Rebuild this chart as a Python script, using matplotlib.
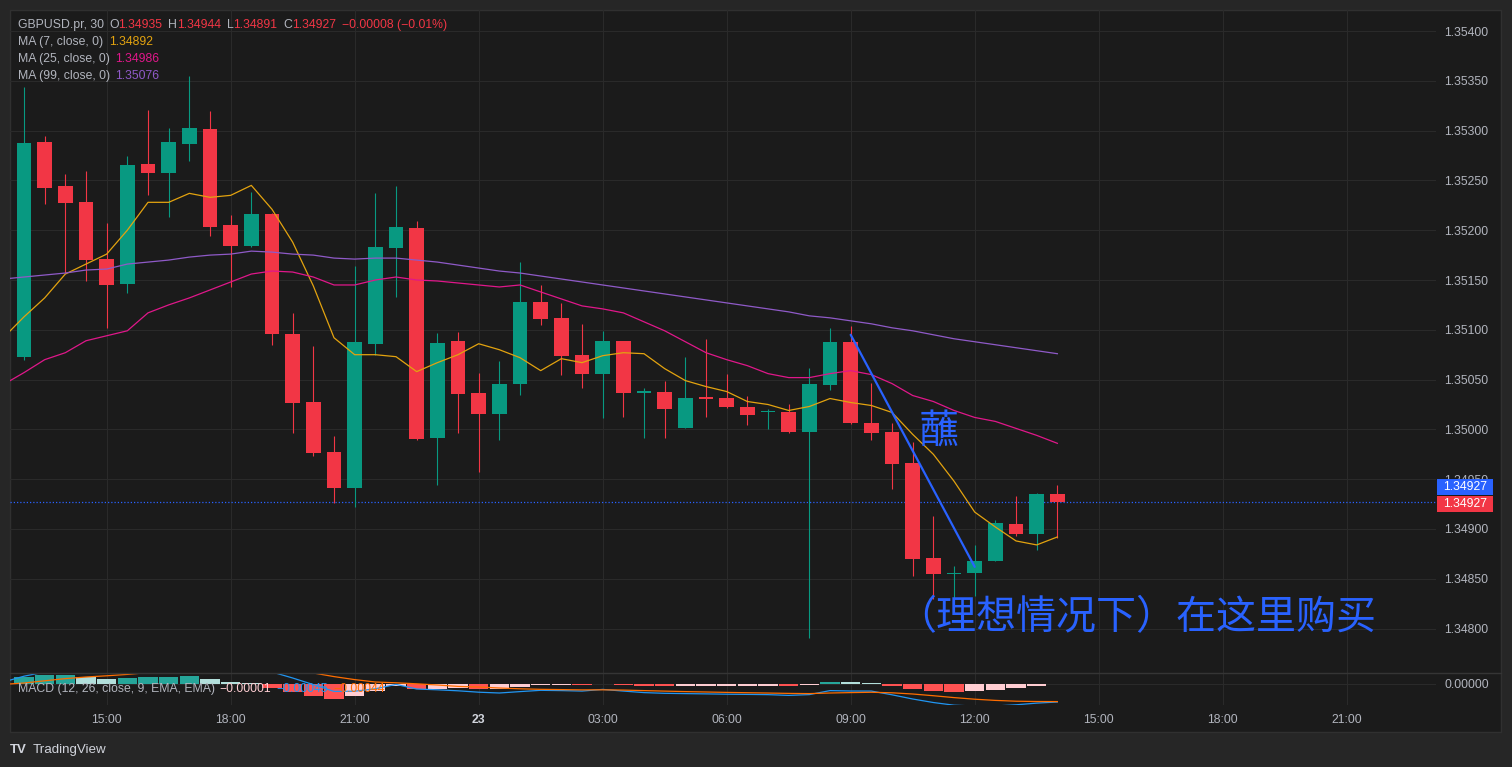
import numpy as np
import matplotlib
matplotlib.use("Agg")
import matplotlib.pyplot as plt
from matplotlib.patches import Rectangle
from matplotlib.lines import Line2D

plt.rcParams['font.family'] = ['Liberation Sans', 'DejaVu Sans']

# ---------------- data (30-min GBPUSD.pr candles) ----------------
opens = [1.35073, 1.35289, 1.35244, 1.35228, 1.35171, 1.35146, 1.35266, 1.35257, 1.35287, 1.35302,
         1.35205, 1.35184, 1.35216, 1.35096, 1.35028, 1.34977, 1.34941, 1.35086, 1.35182, 1.35202,
         1.34991, 1.35089, 1.35037, 1.35015, 1.35046, 1.35128, 1.35112, 1.35075, 1.35056, 1.35089,
         1.35037, 1.35038, 1.35001, 1.35032, 1.35032, 1.35022, 1.35017, 1.35017, 1.34997, 1.35045,
         1.35088, 1.35006, 1.34997, 1.34966, 1.34871, 1.34855, 1.34856, 1.34868, 1.34905, 1.34895,
         1.34935]
highs = [1.35344, 1.35295, 1.35256, 1.35259, 1.35207, 1.35275, 1.35321, 1.35303, 1.35355, 1.35320,
         1.35215, 1.35238, 1.35217, 1.35117, 1.35084, 1.34993, 1.35164, 1.35237, 1.35244, 1.35209,
         1.35097, 1.35098, 1.35057, 1.35069, 1.35168, 1.35145, 1.35127, 1.35106, 1.35099, 1.35089,
         1.35042, 1.35049, 1.35073, 1.35091, 1.35056, 1.35034, 1.35020, 1.35025, 1.35062, 1.35102,
         1.35104, 1.35047, 1.35006, 1.34987, 1.34913, 1.34863, 1.34884, 1.34909, 1.34933, 1.34936,
         1.34944]
lows = [1.35070, 1.35226, 1.35157, 1.35149, 1.35102, 1.35137, 1.35235, 1.35213, 1.35269, 1.35194,
        1.35143, 1.35183, 1.35085, 1.34996, 1.34973, 1.34926, 1.34922, 1.35075, 1.35133, 1.34989,
        1.34944, 1.34996, 1.34957, 1.34989, 1.35035, 1.35105, 1.35055, 1.35042, 1.35011, 1.35012,
        1.34991, 1.34991, 1.35001, 1.35012, 1.35021, 1.35004, 1.35000, 1.34996, 1.34791, 1.35040,
        1.35005, 1.34989, 1.34940, 1.34853, 1.34830, 1.34831, 1.34833, 1.34868, 1.34893, 1.34879,
        1.34891]
closes = [1.35288, 1.35242, 1.35227, 1.35170, 1.35145, 1.35265, 1.35257, 1.35289, 1.35303, 1.35203,
          1.35184, 1.35216, 1.35096, 1.35027, 1.34976, 1.34941, 1.35088, 1.35183, 1.35203, 1.34990,
          1.35087, 1.35036, 1.35015, 1.35046, 1.35128, 1.35111, 1.35074, 1.35056, 1.35089, 1.35037,
          1.35038, 1.35020, 1.35032, 1.35031, 1.35022, 1.35014, 1.35018, 1.34997, 1.35046, 1.35088,
          1.35006, 1.34996, 1.34965, 1.34870, 1.34855, 1.34856, 1.34868, 1.34906, 1.34895, 1.34935,
          1.34927]

# moving averages, first value belongs to the bar just left of the visible range
ma7 = [1.35092, 1.35113, 1.35132, 1.35156, 1.35166, 1.35176, 1.35200, 1.35228, 1.35228, 1.35237,
       1.35233, 1.35235, 1.35245, 1.35221, 1.35188, 1.35144, 1.35092, 1.35075, 1.35075, 1.35073,
       1.35058, 1.35067, 1.35075, 1.35086, 1.35080, 1.35072, 1.35059, 1.35071, 1.35067, 1.35074,
       1.35077, 1.35076, 1.35061, 1.35049, 1.35043, 1.35038, 1.35028, 1.35025, 1.35019, 1.35023,
       1.35031, 1.35027, 1.35024, 1.35017, 1.34995, 1.34975, 1.34948, 1.34917, 1.34902, 1.34888,
       1.34884, 1.34892]
ma25 = [1.35045, 1.35057, 1.35070, 1.35077, 1.35089, 1.35094, 1.35099, 1.35117, 1.35125, 1.35132,
        1.35140, 1.35148, 1.35156, 1.35159, 1.35158, 1.35153, 1.35145, 1.35145, 1.35150, 1.35153,
        1.35150, 1.35149, 1.35147, 1.35145, 1.35143, 1.35145, 1.35138, 1.35131, 1.35124, 1.35121,
        1.35117, 1.35108, 1.35099, 1.35088, 1.35077, 1.35070, 1.35064, 1.35056, 1.35052, 1.35052,
        1.35056, 1.35059, 1.35055, 1.35046, 1.35034, 1.35028, 1.35019, 1.35012, 1.35008, 1.35001,
        1.34994, 1.34986]
ma99 = [1.35151, 1.35153, 1.35155, 1.35157, 1.35160, 1.35161, 1.35166, 1.35168, 1.35170, 1.35173,
        1.35175, 1.35176, 1.35179, 1.35178, 1.35176, 1.35175, 1.35172, 1.35171, 1.35172, 1.35172,
        1.35170, 1.35168, 1.35165, 1.35162, 1.35159, 1.35157, 1.35154, 1.35151, 1.35148, 1.35145,
        1.35142, 1.35139, 1.35136, 1.35133, 1.35130, 1.35127, 1.35124, 1.35121, 1.35118, 1.35114,
        1.35112, 1.35109, 1.35106, 1.35102, 1.35099, 1.35095, 1.35091, 1.35088, 1.35085, 1.35082,
        1.35079, 1.35076]

# MACD (values in units of 1e-5); line/signal start one bar left of the visible range
macd_line = [5, 19.5, 30, 36.5, 34.5, 32.5, 39, 46.5, 51.5, 56.5, 52.5, 48, 45, 30, 15, -1.5,
             -18.5, -18, -12, -1, -12.5, -14.5, -17, -20.5, -22.5, -19, -15.8, -16.5, -17.7, -13.5,
             -17.7, -21.5, -23.3, -24, -24.7, -25.5, -26, -26.6, -28.5, -26.5, -16.5, -17.5, -17.7,
             -27, -37.5, -46.3, -53, -55, -55, -52, -47.8, -45]
macd_signal = [-1, 2.5, 8, 13.5, 17.5, 20.5, 24, 28.5, 33, 37.5, 40.5, 42, 42.5, 40, 35, 27.5,
               18.5, 11, 5, 3, 0.5, -2.5, -6, -7.5, -10, -12, -13.3, -14, -14.7, -14.5, -15.2,
               -16.5, -17.8, -19, -20, -21, -21.8, -22.6, -23.5, -24, -22.5, -21.5, -20.7, -22,
               -25, -29.3, -34, -38, -41, -43, -43.8, -44]
macd_hist = [17, 22, 23, 17, 12, 15, 18, 18.5, 19, 12, 6, 2.5, -10, -20, -29, -37, -29, -17, -4,
             -13, -12, -11, -13, -12.5, -7, -2.5, -2.5, -3, 1, -2.5, -5, -5.5, -5, -4.7, -4.5,
             -4.2, -4, -5, -2.5, 6, 4, 3, -5, -12.5, -17, -19, -17, -14, -9, -4, -1]

tick_pos = [4, 10, 16, 22, 28, 34, 40, 46, 52, 58, 64]
tick_labels = ['15:00', '18:00', '21:00', '23', '03:00', '06:00', '09:00', '12:00',
               '15:00', '18:00', '21:00']
price_ticks = [1.348, 1.3485, 1.349, 1.3495, 1.350, 1.3505, 1.351, 1.3515, 1.352, 1.3525,
               1.353, 1.3535, 1.354]
last_price = 1.34927

trend_x = [40, 46]
trend_y = [1.35095, 1.34862]
note1_text = "蘸"
note1_pos = (43.3, 1.34997)
note2_text = "（理想情况下）在这里购买"
note2_pos = (42.2, 1.34810)

# ---------------- styling ----------------
W, H = 1512, 767
BG_OUT = '#262626'
BG = '#1b1b1b'
GRID = '#2a2a2a'
TXT = '#b2b5be'
GREEN = '#089981'
RED = '#F23645'
BLUE = '#2962FF'
C_MA7 = '#e3a30f'
C_MA25 = '#e0178a'
C_MA99 = '#8f5ac8'
FS = 8.8

fig = plt.figure(figsize=(W / 100, H / 100), dpi=100, facecolor=BG_OUT)


def rect(l, t, r, b):
    return [l / W, 1 - b / H, (r - l) / W, (b - t) / H]


def ftext(x, y, s, color=TXT, **kw):
    kw.setdefault('fontsize', FS)
    kw.setdefault('va', 'center')
    kw.setdefault('ha', 'left')
    return fig.text(x / W, 1 - y / H, s, color=color, **kw)


fig.add_artist(Rectangle((10 / W, 1 - 732 / H), (1501 - 10) / W, (732 - 10) / H,
                         transform=fig.transFigure, fc=BG, ec='#303030', lw=1, zorder=-5))

ax = fig.add_axes(rect(10, 10, 1436, 673))
axm = fig.add_axes(rect(10, 673, 1436, 705))
XL = (-0.677, 68.32)
for a in (ax, axm):
    a.set_facecolor('none')
    for s in a.spines.values():
        s.set_visible(False)
    a.set_xlim(*XL)
    a.set_xticks(tick_pos)
    a.grid(True, color=GRID, lw=0.75)
    a.set_axisbelow(True)
    a.tick_params(length=0, colors=TXT, labelsize=FS)

# price pane
ax.set_ylim(1.347554, 1.354211)
ax.yaxis.tick_right()
ax.set_yticks(price_ticks)
ax.set_yticklabels([f"{v:.5f}" for v in price_ticks])
ax.tick_params(axis='y', pad=5.8)
ax.tick_params(axis='x', labelbottom=False)

idx = np.arange(len(opens))
o, h, l, c = (np.array(v) for v in (opens, highs, lows, closes))
cols = np.where(c >= o, GREEN, RED)
ax.vlines(idx, l, h, colors=cols, lw=0.8, zorder=3)
body_lo = np.minimum(o, c)
body_h = np.maximum(np.abs(c - o), 1.1e-5)
ax.bar(idx, body_h, bottom=body_lo, width=0.72, color=cols, lw=0, zorder=4)

ma_x = np.arange(-1, len(ma7) - 1)
ax.plot(ma_x, ma7, color=C_MA7, lw=0.9, zorder=5)
ax.plot(ma_x, ma25, color=C_MA25, lw=0.9, zorder=5)
ax.plot(ma_x, ma99, color=C_MA99, lw=0.9, zorder=5)

ax.axhline(last_price, color=BLUE, lw=0.9, ls=(0, (1, 1.6)), zorder=2)

# drawings
ax.plot(trend_x, trend_y, color=BLUE, lw=1.6, zorder=6, solid_capstyle='round')
ax.text(*note1_pos, note1_text, color=BLUE, fontsize=28.8, ha='left', va='center',
        family=['Noto Sans CJK SC'], zorder=7)
ax.text(*note2_pos, note2_text, color=BLUE, fontsize=28.8, ha='left', va='center',
        family=['Noto Sans CJK SC'], zorder=7)

# MACD pane
sc = 1e-5
axm.set_ylim(-52.5 * sc, 27.5 * sc)
axm.yaxis.tick_right()
axm.set_yticks([0])
axm.set_yticklabels(['0.00000'])
axm.tick_params(axis='y', pad=5.8)
axm.set_xticklabels(tick_labels)
axm.tick_params(axis='x', pad=6.6)
axm.get_xticklabels()[3].set_fontweight('bold')
axm.get_xticklabels()[3].set_color('#d1d4dc')

hist = np.array(macd_hist)
hcols = []
for i, v in enumerate(hist):
    prev = hist[i - 1] if i > 0 else 0
    if v >= 0:
        hcols.append('#26A69A' if v >= prev else '#B2DFDB')
    else:
        hcols.append('#FF5252' if v < prev else '#FFCDD2')
hh = np.sign(hist) * np.maximum(np.abs(hist), 0.45)
axm.bar(np.arange(len(hist)), hh * sc, width=0.93, color=hcols, lw=0, zorder=3)
mx = np.arange(-1, len(macd_line) - 1)
axm.plot(mx, np.array(macd_line) * sc, color='#2196F3', lw=0.9, zorder=4)
axm.plot(mx, np.array(macd_signal) * sc, color='#FF6D00', lw=0.9, zorder=4)

# pane separator
fig.add_artist(Line2D([10 / W, 1501 / W], [1 - 673 / H, 1 - 673 / H],
                      transform=fig.transFigure, color='#353535', lw=1))

# legends
ftext(18, 25, "GBPUSD.pr, 30")
ftext(109.3, 25, "O")
ftext(118.6, 25, "1.34935", RED)
ftext(168.3, 25, "H")
ftext(177.2, 25, "1.34944", RED)
ftext(226.7, 25, "L")
ftext(233.6, 25, "1.34891", RED)
ftext(283.7, 25, "C")
ftext(292.6, 25, "1.34927", RED)
ftext(342.3, 25, "\u22120.00008 (\u22120.01%)", RED)
ftext(18, 42.2, "MA (7, close, 0)")
ftext(109.3, 42.2, "1.34892", C_MA7)
ftext(18, 59.2, "MA (25, close, 0)")
ftext(115, 59.2, "1.34986", C_MA25)
ftext(18, 76, "MA (99, close, 0)")
ftext(115, 76, "1.35076", C_MA99)

ftext(18, 689, "MACD (12, 26, close, 9, EMA, EMA)")
ftext(219, 689, "\u22120.00001", '#FFCDD2')
ftext(276, 689, "\u22120.00045", '#2196F3')
ftext(333, 689, "\u22120.00044", '#FF6D00')

# price labels on the scale
y_disp = ax.transData.transform((0, last_price))[1]
y_red = H - y_disp + 1.5
for yc, fc in ((y_red - 17, BLUE), (y_red, RED)):
    fig.add_artist(Rectangle((1437 / W, 1 - (yc + 8) / H), 56 / W, 16 / H,
                             transform=fig.transFigure, fc=fc, ec='none', zorder=5))
    t = ftext(1465, yc, f"{last_price:.5f}", 'white', ha='center')
    t.set_zorder(6)

# footer
ftext(10, 750, "TV", '#d1d4dc', fontsize=9.5, fontweight='heavy')
ftext(33, 750, "TradingView", '#d1d4dc', fontsize=9.6)

fig.savefig("out.png", dpi=100, facecolor=BG_OUT)
